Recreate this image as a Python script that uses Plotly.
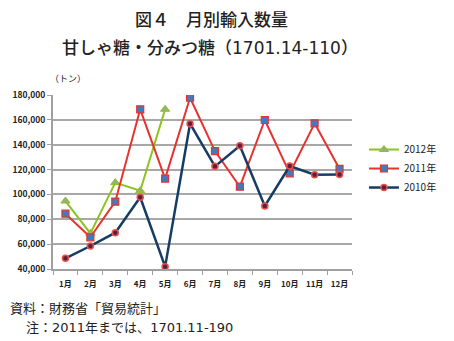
import plotly.graph_objects as go

months = ["1月", "2月", "3月", "4月", "5月", "6月", "7月", "8月", "9月", "10月", "11月", "12月"]
y2010 = [48600, 58500, 69200, 97700, 41900, 156900, 122600, 139200, 90700, 122900, 115900, 116000]
y2011 = [84500, 65500, 94200, 168500, 112700, 177800, 134900, 106200, 159900, 117000, 157200, 120500]
y2012 = [94700, 68700, 109500, 103000, 168500]
months2012 = months[:5]
yticks = [40000, 60000, 80000, 100000, 120000, 140000, 160000, 180000]
yticktext = ["40,000", "60,000", "80,000", "100,000", "120,000", "140,000", "160,000", "180,000"]

font = "Noto Sans CJK JP"
latin = "DejaVu Sans"

fig = go.Figure()
fig.add_trace(go.Scatter(x=months2012, y=y2012, name="2012年", mode="lines+markers",
                         line=dict(color="#8DC21F", width=2),
                         marker=dict(symbol="triangle-up", size=8, color="#9AAE7A",
                                     line=dict(color="#8DC21F", width=1))))
fig.add_trace(go.Scatter(x=months, y=y2011, name="2011年", mode="lines+markers",
                         line=dict(color="#E8322D", width=2),
                         marker=dict(symbol="square", size=7, color="#3C7CC0",
                                     line=dict(color="#E8322D", width=1.2))))
fig.add_trace(go.Scatter(x=months, y=y2010, name="2010年", mode="lines+markers",
                         line=dict(color="#143C64", width=2.5),
                         marker=dict(symbol="circle", size=6, color="#5A2040",
                                     line=dict(color="#E8504A", width=1.5))))

L, R, T, B, W, H = 50, 69, 95, 72, 454, 341


def px_to_paper(px, py):
    return (px - L) / (W - L - R), (H - B - py) / (H - T - B)


def lat(s):
    return f'<span style="font-family:{latin}">{s}</span>'


annotations = []
for text, px, py, size, anchor, weight in [
    ("図４　月別輸入数量", 228, 18, 17, "center", 500),
    ("甘しゃ糖・分みつ糖（" + lat("1701.14-110") + "）", 226, 46, 17, "center", 500),
    ("（トン）", 44, 78, 9, "left", "normal"),
    ("資料：財務省「貿易統計」", 0, 307, 13, "left", "normal"),
    ("注：" + lat("2011") + "年までは、" + lat("1701.11-190"), 17, 326, 13, "left", "normal"),
]:
    xp, yp = px_to_paper(px, py)
    annotations.append(dict(text=text, x=xp, y=yp, xref="paper", yref="paper",
                            xanchor=anchor, yanchor="middle", showarrow=False,
                            font=dict(size=size, family=font, color="#222", weight=weight)))

fig.update_layout(
    width=W, height=H,
    margin=dict(l=L, r=R, t=T, b=B),
    paper_bgcolor="white", plot_bgcolor="white",
    font=dict(family=font, color="#222"),
    showlegend=True,
    legend=dict(x=1.04, y=0.77, xanchor="left", yanchor="top",
                font=dict(size=10, family=font, color="#222"),
                tracegroupgap=0, itemwidth=30, bgcolor="rgba(0,0,0,0)"),
    xaxis=dict(type="category", categoryorder="array", categoryarray=months,
               showgrid=False, showline=True, linecolor="#A0A0A0", linewidth=2,
               ticks="outside", tickson="boundaries", ticklen=4, tickcolor="#A0A0A0",
               tickangle=0, ticklabelstandoff=6,
               tickfont=dict(size=8, family=font, color="#222", weight="bold"), range=[-0.5, 11.5]),
    yaxis=dict(range=[40000, 180000], tickvals=yticks, ticktext=yticktext,
               showgrid=True, gridcolor="#A8A8A8", gridwidth=1.5,
               showline=True, linecolor="#A0A0A0", linewidth=2,
               ticks="outside", ticklen=4, tickcolor="#A0A0A0",
               tickfont=dict(size=8.5, family=font, color="#222", weight="bold"), zeroline=False),
    annotations=annotations,
)

fig.write_html("out.html")
